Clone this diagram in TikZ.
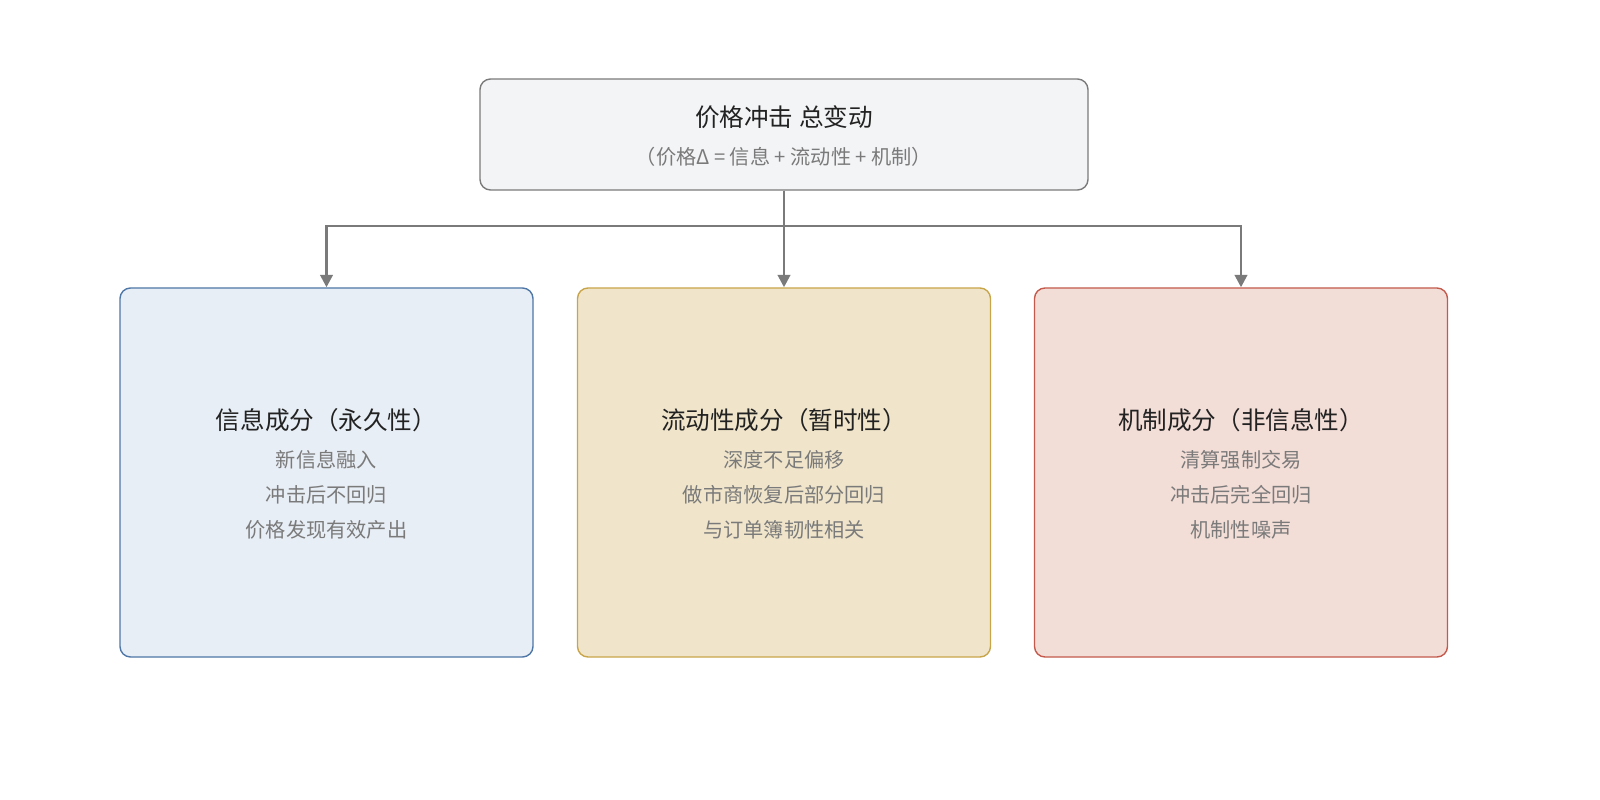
\documentclass[tikz,border=0pt]{standalone}
\usepackage{fontspec}
\setmainfont{Noto Sans CJK SC}
\usetikzlibrary{arrows.meta}
\definecolor{tfill}{HTML}{F3F4F6}\definecolor{tdraw}{HTML}{7A7A7A}
\definecolor{bfill}{HTML}{E8EEF6}\definecolor{bdraw}{HTML}{4E76A6}
\definecolor{yfill}{HTML}{F0E5CB}\definecolor{ydraw}{HTML}{C9A54A}
\definecolor{rfill}{HTML}{F3DDD7}\definecolor{rdraw}{HTML}{C45A4C}
\definecolor{sub}{HTML}{7A7A7A}\definecolor{ttl}{HTML}{222222}
\begin{document}
\begin{tikzpicture}[x=0.02cm,y=-0.02cm,
 box/.style={draw,line width=0.8pt,rounded corners=6pt,inner sep=0pt},
 ttl/.style={font=\fontsize{14}{18}\selectfont,text=ttl},
 itm/.style={font=\fontsize{11.5}{20}\selectfont,text=sub,align=center},
 arr/.style={draw=sub,line width=1.5pt,-{Triangle[length=7pt,width=7pt]}}]
\useasboundingbox (0,0) rectangle (1600,800);
\node[box,fill=tfill,draw=tdraw,minimum width=608*0.02cm,minimum height=111*0.02cm] (top) at (784,134.5) {};
\node[ttl] (tt) at (784,117) {价格冲击 总变动};
\node[itm] (ts) at (784,157) {（价格Δ = 信息 + 流动性 + 机制）};
\foreach \n/\x/\f/\d in {a/326.5/bfill/bdraw,b/784/yfill/ydraw,c/1241/rfill/rdraw}{
 \node[box,fill=\f,draw=\d,minimum width=413*0.02cm,minimum height=369*0.02cm] (\n) at (\x,472.5) {};}
\node[ttl] at (326.5,420) {信息成分（永久性）};
\node[itm] at (326.5,495) {新信息融入\\冲击后不回归\\价格发现有效产出};
\node[ttl] at (784,420) {流动性成分（暂时性）};
\node[itm] at (784,495) {深度不足偏移\\做市商恢复后部分回归\\与订单簿韧性相关};
\node[ttl] at (1241,420) {机制成分（非信息性）};
\node[itm] at (1241,495) {清算强制交易\\冲击后完全回归\\机制性噪声};
\coordinate (j) at (784,226);
\draw[arr] (top.south) -- (b.north);
\draw[arr] (top.south) -- (j) -| (a.north);
\draw[arr] (j) -| (c.north);
\end{tikzpicture}
\end{document}
